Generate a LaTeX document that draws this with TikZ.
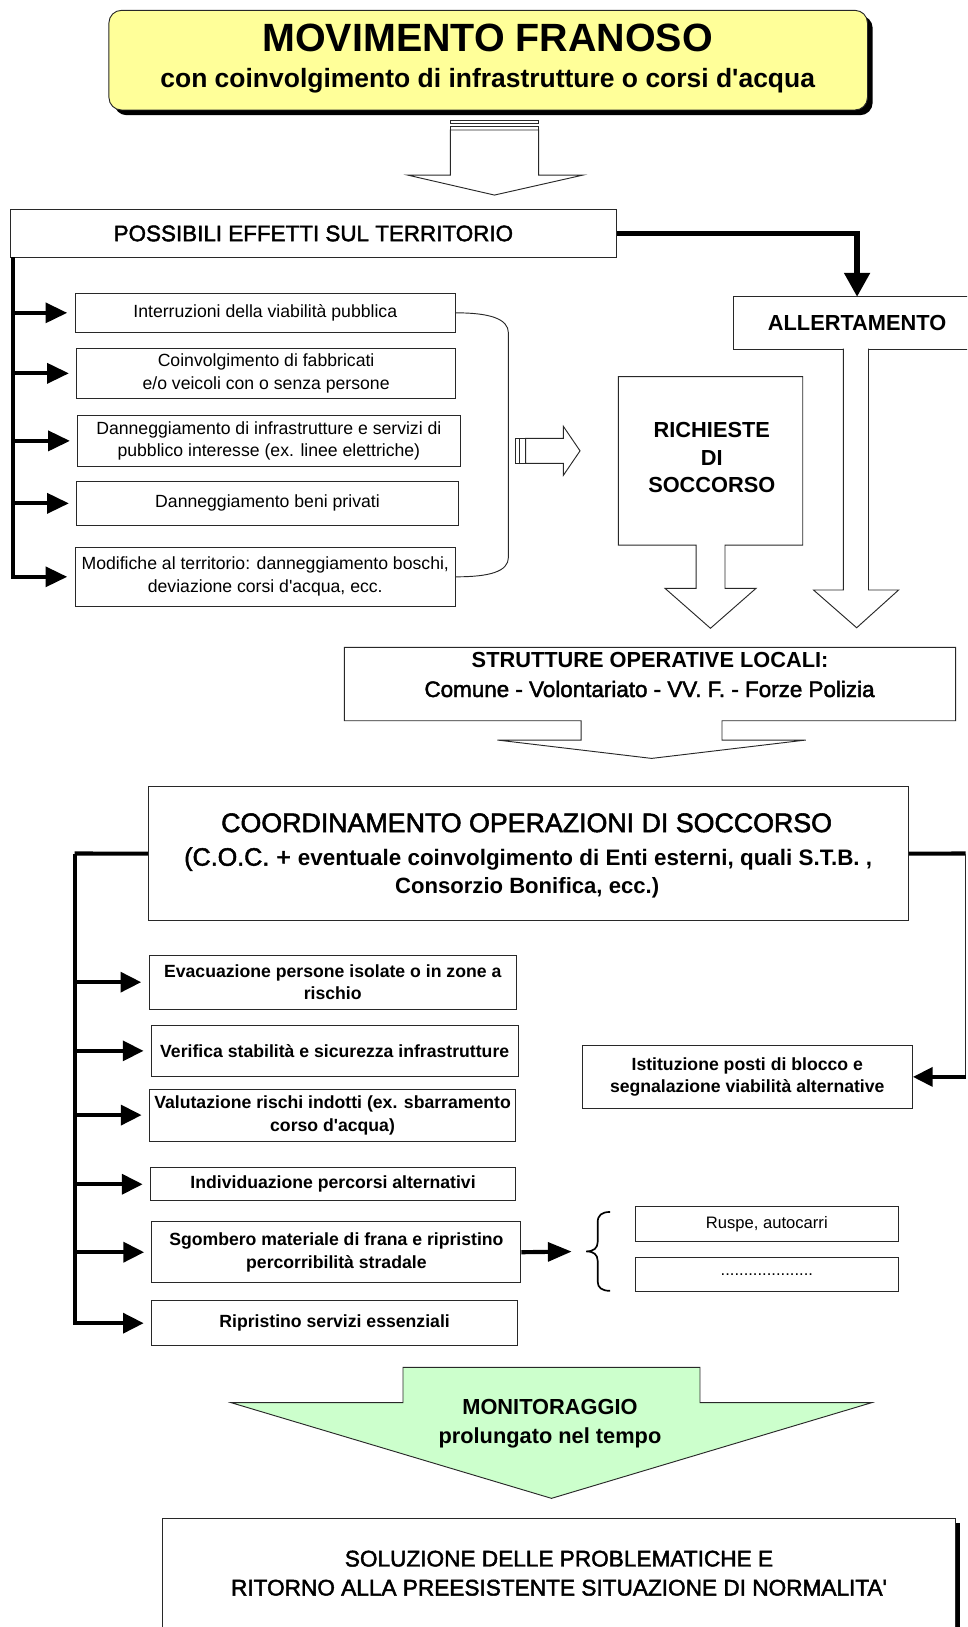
\documentclass[tikz,border=0pt]{standalone}
\usepackage{fontspec}
\newfontfamily\arial{Liberation Sans}
\newfontfamily\arialmed{Liberation Sans}[FakeBold=2]
\usetikzlibrary{arrows.meta,fit,shadows}
\definecolor{titleyellow}{RGB}{255,255,153}
\definecolor{monigreen}{RGB}{204,255,204}
\definecolor{edge}{RGB}{40,40,40}
\newcommand\fsz[2]{\arial\fontsize{#1}{#2}\selectfont}
\newcommand\fmd[2]{\arialmed\fontsize{#1}{#2}\selectfont}

\begin{document}
\begin{tikzpicture}[x=1pt,y=-1pt,
  plainbox/.style={draw=edge, line width=0.9pt, fill=white, inner sep=0pt, align=center},
  upitem/.style={plainbox, font=\fsz{17}{22}},
  lowitem/.style={plainbox, font=\fsz{17}{22}\bfseries},
  hollowarrow/.style={draw=edge, line width=0.9pt, fill=white, line join=miter},
  heavyline/.style={line width=4pt, line join=miter},
  branchline/.style={heavyline, -{Triangle[length=21pt,width=19pt]}, shorten >=7pt},
  bigtext/.style={font=\fsz{21}{26.5}\bfseries, align=center, inner sep=0pt},
  size/.style 2 args={minimum width=#1pt, minimum height=#2pt},
]
\clip (0,0) rectangle (932,1568);
\fill[white] (0,0) rectangle (932,1568);

% ---------- title ----------
\node[plainbox, rounded corners=12pt, fill=titleyellow,
      drop shadow={shadow xshift=5pt, shadow yshift=-5pt, fill=black, opacity=1},
      fit={(105,10)(836,106)}] (title) {};
\node[font=\fsz{38}{40}\bfseries, inner sep=0pt] (titlea) at (470,37) {MOVIMENTO FRANOSO};
\node[font=\fsz{25.5}{28}\bfseries, inner sep=0pt] (titleb) at (470,78) {con coinvolgimento di infrastrutture o corsi d'acqua};

% striped hollow arrow under the title
\draw[hollowarrow] (434,116.3) rectangle (519,119);
\draw[hollowarrow] (434,121.4) rectangle (519,125.3);
\draw[hollowarrow] (434,125.3) -- (434,168.7) -- (392.7,168.7) -- (476.5,188)
   -- (562,168.7) -- (519,168.7) -- (519,125.3) -- cycle;

% ---------- effects on the territory ----------
\node[plainbox, font=\fmd{21.6}{25}, size={584}{46}] (possibili) at (302,225) {POSSIBILI EFFETTI SUL TERRITORIO};

\node[upitem, size={366.7}{37.6}] (e1) at (255.65,301.5) {Interruzioni della viabilità pubblica};
\node[upitem, size={365.1}{48.2}] (e2) at (256.45,359.8) {Coinvolgimento di fabbricati\\e/o veicoli con o senza persone};
\node[upitem, size={368.4}{49.8}] (e3) at (259.1,424.9) {Danneggiamento di infrastrutture e servizi di\\pubblico interesse (ex. linee elettriche)};
\node[upitem, size={367.8}{41.8}] (e4) at (257.8,485.1) {Danneggiamento beni privati};
\node[upitem, size={366.7}{56.2}] (e5) at (255.65,555.9) {Modifiche al territorio: danneggiamento boschi,\\deviazione corsi d'acqua, ecc.};

\coordinate (lbar) at (12.5,248);
\draw[branchline] (lbar) |- (e5.west);
\foreach \n in {e1,e2,e3,e4}
  \draw[branchline] (lbar |- \n.west) -- (\n.west);

% bracket grouping the effects
\draw[draw=edge, line width=0.9pt] (e1.east) .. controls +(32,0) and +(0,-14) .. (490,321)
   -- (490,537) .. controls +(0,14) and +(32,0) .. (e5.east);

% small striped hollow arrow
\draw[hollowarrow] (497,422.4) rectangle (501,446.5);
\draw[hollowarrow] (501,422.4) rectangle (506.6,446.5);
\draw[hollowarrow] (506.6,422.4) -- (543,422.4) -- (543,411) -- (559,434.5)
   -- (543,458) -- (543,446.5) -- (506.6,446.5) -- cycle;

% ---------- alert ----------
\node[plainbox, fit={(707,286)(950,336.4)}] (allert) {};
\node[bigtext] (allerttxt) at (826,311) {ALLERTAMENTO};
\coordinate (alin) at (826,286);
\draw[line width=5pt, line join=miter, -{Triangle[length=23pt,width=24pt]}] (possibili.east) -| (alin);
\draw[hollowarrow] (812.8,335.9) -- (812.8,568.6) -- (784,568.6) -- (825.6,605)
   -- (866,568.6) -- (837,568.6) -- (837,335.9);

% ---------- rescue requests ----------
\draw[hollowarrow] (595.9,363) -- (773.6,363) -- (773.6,525.3) -- (698.7,525.3)
   -- (698.7,567) -- (728.6,567) -- (684.7,605.5) -- (640.9,567) -- (670.8,567)
   -- (670.8,525.3) -- (595.9,525.3) -- cycle;
\node[bigtext] (richtxt) at (686,441) {RICHIESTE\\DI\\SOCCORSO};

% ---------- local operative structures ----------
\draw[hollowarrow] (331.8,623.9) -- (921,623.9) -- (921,694.6) -- (695.8,694.6)
   -- (695.8,713.2) -- (776.5,713.2) -- (628,730.9) -- (479.4,713.2) -- (560,713.2)
   -- (560,694.6) -- (331.8,694.6) -- cycle;
\node[font=\fsz{21}{24}\bfseries, inner sep=0pt] (strA) at (626.5,636) {STRUTTURE OPERATIVE LOCALI:};
\node[font=\fmd{21.6}{25}, inner sep=0pt] (strB) at (626,664) {Comune - Volontariato - VV. F. - Forze Polizia};

% ---------- coordination ----------
\node[plainbox, fit={(143,758)(875.4,887.3)}] (coord) {};
\node[font=\fmd{25.8}{28}, inner sep=0pt] (coordA) at (507.5,793) {COORDINAMENTO OPERAZIONI DI SOCCORSO};
\node[inner sep=0pt] (coordB) at (509,828) {{\fmd{24.2}{28}(C.O.C. + }{\fsz{21.6}{26}\bfseries eventuale coinvolgimento di Enti esterni, quali S.T.B. ,}};
\node[font=\fsz{21.3}{26}\bfseries, inner sep=0pt] (coordC) at (508,856) {Consorzio Bonifica, ecc.)};

\node[lowitem, size={354.1}{52.3}] (l1) at (320.65,946.55) {Evacuazione persone isolate o in zone a\\rischio};
\node[lowitem, size={353.5}{49.7}] (l2) at (322.55,1012.75) {Verifica stabilità e sicurezza infrastrutture};
\node[lowitem, size={353}{50.1}] (l3) at (320.5,1074.65) {Valutazione rischi indotti (ex. sbarramento\\corso d'acqua)};
\node[lowitem, size={352}{31.8}] (l4) at (321,1141.3) {Individuazione percorsi alternativi};
\node[lowitem, size={355.6}{58.8}] (l5) at (324.2,1206.8) {Sgombero materiale di frana e ripristino\\percorribilità stradale};
\node[lowitem, size={353}{43.4}] (l6) at (322.5,1275.2) {Ripristino servizi essenziali};

\coordinate (lb) at (72,822.6);
\draw[heavyline] (coord.west) -- (lb);
\draw[branchline, -{Triangle[length=20pt,width=19pt]}] (lb) |- (l6.west);
\foreach \n in {l1,l2,l3,l4,l5}
  \draw[branchline, -{Triangle[length=20pt,width=19pt]}] (lb |- \n.west) -- (\n.west);

\node[lowitem, size={318.3}{60.7}] (ist) at (720.15,1037.85) {Istituzione posti di blocco e\\segnalazione viabilità alternative};
\coordinate (rtop) at (930.5,822.6);
\coordinate (rbot) at (930.5,1037.85);
\draw[heavyline] (coord.east) -- (rtop);
\draw[draw=edge, line width=1pt] (rtop) -- (rbot);
\draw[heavyline, -{Triangle[length=19pt,width=18pt]}] (rbot) -- (ist.east);

% means for clearing the road
\node[upitem, font=\fsz{16}{20}, size={254}{33}] (ruspe) at (739,1179.5) {Ruspe, autocarri};
\node[upitem, font=\fsz{16}{20}, size={254}{32.2}] (altro) at (739,1228.1) {....................};
\coordinate (brc) at (565,1206);
\draw[heavyline, -{Triangle[length=23pt,width=18pt]}, shorten >=14pt] (l5.east) -- (brc);
\draw[line width=1.6pt] (588,1168) .. controls (580,1168) and (576,1171) .. (576,1178)
   -- (576,1197) .. controls (576,1203) and (572,1206) .. (brc)
   .. controls (572,1206) and (576,1209) .. (576,1215)
   -- (576,1235) .. controls (576,1241) and (580,1244) .. (588,1244);

% ---------- monitoring ----------
\draw[draw=edge, line width=0.9pt, fill=monigreen, line join=miter]
   (388.4,1317.8) -- (674.6,1317.8) -- (674.6,1351.8) -- (840,1351.8) -- (531.5,1444)
   -- (222.8,1351.8) -- (388.4,1351.8) -- cycle;
\node[bigtext, font=\fsz{21}{28}\bfseries] (moni) at (530,1372) {MONITORAGGIO\\prolungato nel tempo};

% ---------- final outcome ----------
\node[plainbox, font=\fmd{21.8}{28}, size={763.4}{105.7},
      drop shadow={shadow xshift=4.5pt, shadow yshift=-4.5pt, fill=black, opacity=1}]
      (sol) at (538.7,1516.15) {SOLUZIONE DELLE PROBLEMATICHE E\\RITORNO ALLA PREESISTENTE SITUAZIONE DI NORMALITA'};
\end{tikzpicture}
\end{document}
